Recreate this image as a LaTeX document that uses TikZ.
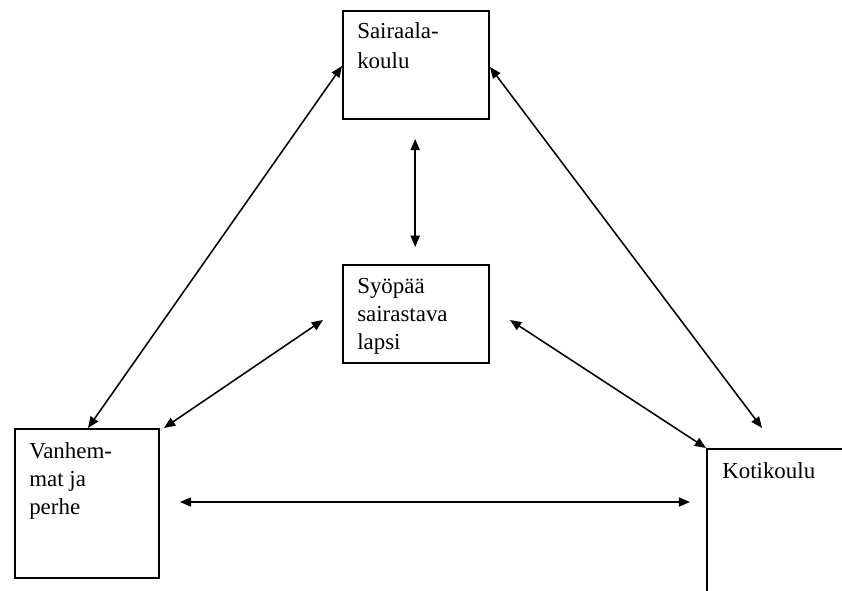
\documentclass[tikz,border=0pt]{standalone}
\usepackage{fontspec}
\setmainfont{Liberation Serif}
\usetikzlibrary{arrows.meta}

\begin{document}
\begin{tikzpicture}[>={Triangle[length=8pt,width=6.5pt]},   % arrow tip
                    font=\fontsize{16.3}{19.9}\selectfont
                    ]
\tikzset{box/.style={draw, line width=1.4pt, anchor=north west, inner sep=0pt},
         txt/.style={anchor=north west, align=left, inner sep=0pt},
         link/.style={<->, line width=1.1pt}}

\useasboundingbox (0,0) rectangle (21.05,14.75);

% Boxes
\node[box, minimum width=3.65cm, minimum height=2.7cm] (sairaala) at (8.55,14.5) {};
\node[box, minimum width=3.65cm, minimum height=2.45cm] (syopa) at (8.55,8.15) {};
\node[box, minimum width=3.6cm, minimum height=3.725cm] (vanhemmat) at (0.35,4.05) {};
\node[box, minimum width=3.6cm, minimum height=3.7cm] (kotikoulu) at (17.65,3.55) {};

% Texts
\node[txt] (sairaala-txt) at ([xshift=0.375cm,yshift=-0.3cm]sairaala.north west) {Sairaala-\\[1.5pt]koulu};
\node[txt] (syopa-txt) at ([xshift=0.375cm,yshift=-0.36cm]syopa.north west) {Syöpää\\sairastava\\lapsi};
\node[txt] (vanhemmat-txt) at ([xshift=0.375cm,yshift=-0.36cm]vanhemmat.north west) {Vanhem-\\mat ja\\perhe};
\node[txt] (kotikoulu-txt) at ([xshift=0.4cm,yshift=-0.36cm]kotikoulu.north west) {Kotikoulu};

% Free ends of the arrows
\coordinate (s-bot) at ([xshift=-0.02cm,yshift=-0.475cm]sairaala.south);
\coordinate (y-top) at ([xshift=-0.02cm,yshift=0.425cm]syopa.north);
\coordinate (y-left) at ([xshift=-0.475cm,yshift=-1.4cm]syopa.north west);
\coordinate (y-right) at ([xshift=0.5cm,yshift=-1.4cm]syopa.north east);
\coordinate (k-top) at ([xshift=1.4cm,yshift=0.5cm]kotikoulu.north west);
\coordinate (v-right) at ([xshift=0.5cm,yshift=-1.85cm]vanhemmat.north east);
\coordinate (k-left) at ([xshift=-0.4cm,yshift=-1.35cm]kotikoulu.north west);

% Arrows
\draw[link] ([xshift=1.85cm]vanhemmat.north west) -- ([yshift=-1.4cm]sairaala.north west);
\draw[link] ([xshift=0.1cm]vanhemmat.north east) -- (y-left);
\draw[link] ([yshift=-1.425cm]sairaala.north east) -- (k-top);
\draw[link] (y-right) -- (kotikoulu.north west);
\draw[link] (s-bot) -- (y-top);
\draw[link] (v-right) -- (k-left);

\end{tikzpicture}
\end{document}
